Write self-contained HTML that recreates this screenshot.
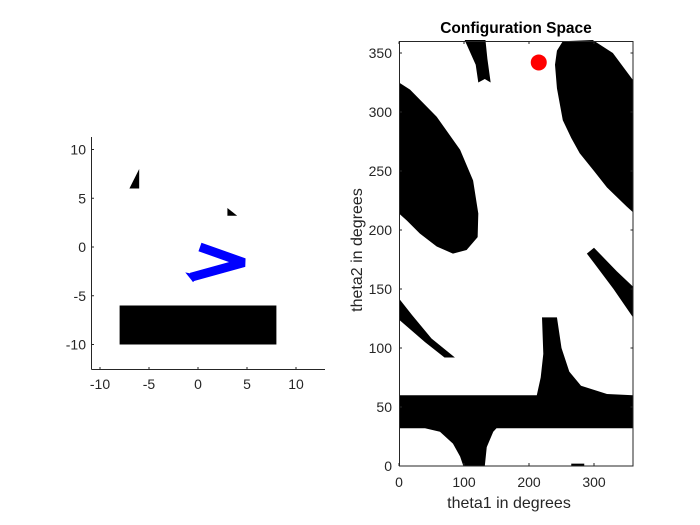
<!DOCTYPE html>
<html><head><meta charset="utf-8"><style>
body{margin:0;background:#fff;}
svg{display:block;font-family:"Liberation Sans",Arial,sans-serif;}
</style></head><body>
<svg id="fig" width="700" height="525" viewBox="0 0 700 525" xmlns="http://www.w3.org/2000/svg">
<rect width="700" height="525" fill="#fff"/>
<g id="left"></g>
<g id="right"></g>
</svg>
<script>
// Workspace data
const lxTicks=[-10,-5,0,5,10];
const lyTicks=[-10,-5,0,5,10];
const rectObs=[[-8,-6],[8,-6],[8,-10],[-8,-10]];
const tri1=[[-7,6],[-6,6],[-6,8]];
const tri2=[[3,4],[3,3.2],[4,3.2]];
const armJoints=[[0.2,0],[4.7,-1.6],[-0.7,-3.1]];
// Configuration space data
const cxTicks=[0,100,200,300];
const cyTicks=[0,50,100,150,200,250,300,350];
const blobA=[[0,325],[17,319],[58,296],[94,268],[114,242],[122,214],[121,194],[104,183],[83,180],[58,186],[32,197],[12,208],[0,214]];
const blobB=[[243,352],[252,360],[298,361],[329,350],[360,327],[360,215],[350,220],[320,236],[300,250],[278,265],[265,278],[252,293],[243,320],[240,340]];
const blobC=[[101,361],[133,361],[136,345],[141,325],[132,328],[122,325],[118,340]];
const blobD=[[289,180],[300,172],[330,150],[360,126],[360,152],[335,165],[300,185]];
const blobE=[[0,142],[20,128],[50,108],[86,92],[70,92],[40,105],[0,124]];
const blobF=[[0,60],[212,60],[218,75],[222,95],[220,126],[230,126],[243,126],[250,100],[262,80],[280,68],[320,61],[360,60],[360,32],[150,32],[145,29],[135,16],[132,0],[99,0],[94,8],[83,19],[63,29],[40,32],[0,32]];
const blobG=[[265,0],[285,0],[285,2],[265,2]];
const current=[215,342];

const NS="http://www.w3.org/2000/svg";
function mk(tag,attrs,parent){const e=document.createElementNS(NS,tag);for(const k in attrs)e.setAttribute(k,attrs[k]);parent.appendChild(e);return e;}
const lx=v=>198+v*9.8, ly=v=>247-v*9.75;
const cx=v=>399+v*0.65, cy=v=>466-v*1.18;
const L=document.getElementById('left'), R=document.getElementById('right');
const pts=(a,fx,fy)=>a.map(p=>fx(p[0])+','+fy(p[1])).join(' ');
let e;
e=mk('polygon',{points:pts(rectObs,lx,ly),fill:'#000'},L);


e=mk('polygon',{points:pts(tri1,lx,ly),fill:'#000'},L);


e=mk('polygon',{points:pts(tri2,lx,ly),fill:'#000'},L);


e=mk('polyline',{points:pts(armJoints,lx,ly),fill:'none',stroke:'#0000ff','stroke-width':9,'stroke-linejoin':'miter','stroke-miterlimit':3},L);


const tip=armJoints[2];
e=mk('polygon',{points:pts([[tip[0]-0.6,tip[1]+0.5],[tip[0]+0.8,tip[1]+0.2],[tip[0]+0.2,tip[1]-0.5]],lx,ly),fill:'#0000ff'},L);


mk('line',{x1:91.5,y1:369.5,x2:325,y2:369.5,stroke:'#262626','stroke-width':1},L);
mk('line',{x1:91.5,y1:137,x2:91.5,y2:369.5,stroke:'#262626','stroke-width':1},L);
lxTicks.forEach(t=>{mk('line',{x1:lx(t),y1:369.5,x2:lx(t),y2:367,stroke:'#262626'},L);
 e=mk('text',{x:lx(t),y:389,'text-anchor':'middle','font-size':14,fill:'#262626'},L);e.textContent=t;
 
 });
lyTicks.forEach(t=>{mk('line',{x1:91.5,y1:ly(t),x2:94,y2:ly(t),stroke:'#262626'},L);
 e=mk('text',{x:86,y:ly(t)+5,'text-anchor':'end','font-size':14,fill:'#262626'},L);e.textContent=t;
 
 });
[['blob-a',blobA],['blob-b',blobB],['blob-c',blobC],['blob-d',blobD],['blob-e',blobE],['blob-f',blobF],['blob-g',blobG]].forEach(([n,b])=>{
 e=mk('polygon',{points:pts(b,cx,cy),fill:'#000'},R);
 
 });
e=mk('circle',{cx:cx(current[0]),cy:cy(current[1]),r:8,fill:'#ff0000'},R);


mk('rect',{x:399.5,y:41.5,width:233.5,height:424.5,fill:'none',stroke:'#262626','stroke-width':1},R);
cxTicks.forEach(t=>{mk('line',{x1:cx(t),y1:466,x2:cx(t),y2:463,stroke:'#262626'},R);mk('line',{x1:cx(t),y1:41.5,x2:cx(t),y2:44,stroke:'#262626'},R);
 e=mk('text',{x:cx(t),y:487,'text-anchor':'middle','font-size':14,fill:'#262626'},R);e.textContent=t;
 
 });
cyTicks.forEach(t=>{mk('line',{x1:399.5,y1:cy(t),x2:402,y2:cy(t),stroke:'#262626'},R);mk('line',{x1:633,y1:cy(t),x2:630.5,y2:cy(t),stroke:'#262626'},R);
 e=mk('text',{x:392,y:cy(t)+5,'text-anchor':'end','font-size':14,fill:'#262626'},R);e.textContent=t;
 
 });
e=mk('text',{x:516,y:33,'text-anchor':'middle','font-size':15.5,'font-weight':'bold',fill:'#000'},R);e.textContent='Configuration Space';


e=mk('text',{x:509,y:508,'text-anchor':'middle','font-size':16,fill:'#262626'},R);e.textContent='theta1 in degrees';


e=mk('text',{x:0,y:0,'text-anchor':'middle','font-size':16,fill:'#262626',transform:'translate(362,250) rotate(-90)'},R);e.textContent='theta2 in degrees';


</script>
</body></html>
